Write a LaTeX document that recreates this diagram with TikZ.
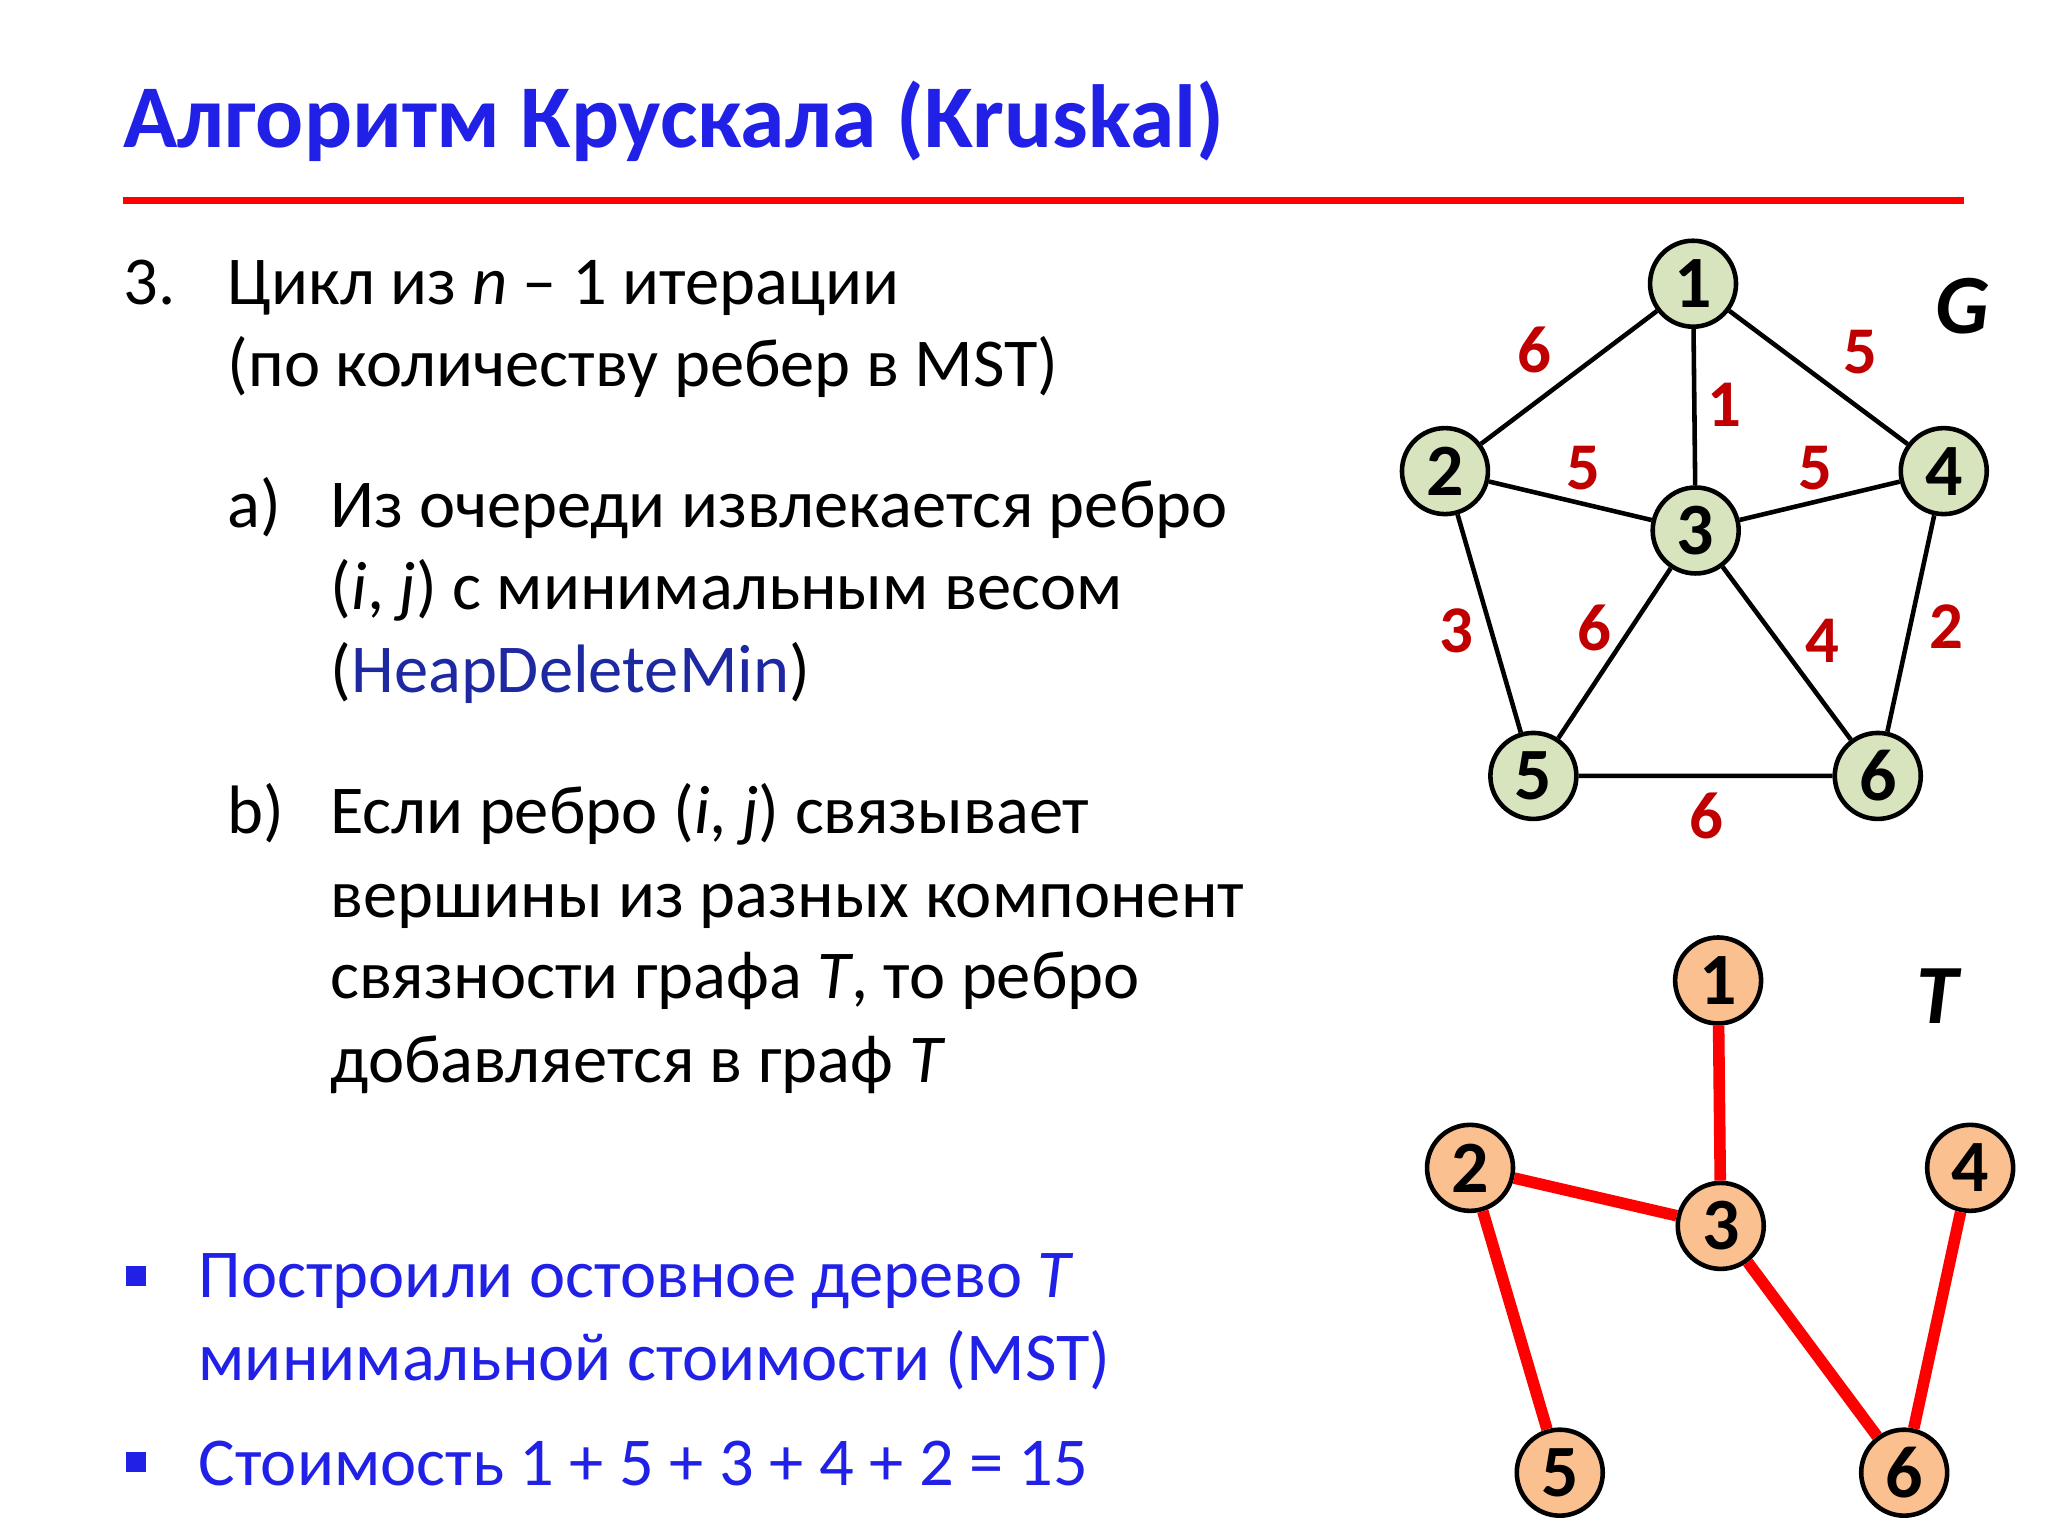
\documentclass[tikz,border=0pt]{standalone}
\usepackage{fontspec}
\setmainfont{Carlito}
\definecolor{tblue}{RGB}{32,32,230}
\definecolor{hblue}{RGB}{30,40,160}
\definecolor{wred}{RGB}{192,0,0}
\definecolor{gfill}{RGB}{215,228,189}
\definecolor{ofill}{RGB}{250,192,144}
\begin{document}
\begin{tikzpicture}[x=0.0132cm,y=-0.0132cm,
  txt/.style={anchor=base west,inner sep=0,font=\fontsize{19.5}{23}\selectfont},
  gv/.style={circle,draw,line width=1.3pt,fill=gfill,minimum size=0.86cm,inner sep=0,font=\fontsize{21}{24}\selectfont\bfseries},
  tv/.style={gv,fill=ofill},
  ge/.style={line width=1.3pt},
  te/.style={line width=3.3pt,red},
  wl/.style={text=wred,font=\fontsize{19}{22}\selectfont\bfseries,inner sep=0},
  bul/.style={fill=tblue,minimum size=0.2cm,inner sep=0}]
\useasboundingbox (0,0) rectangle (1552,1164);
\node[anchor=base west,inner sep=0,text=tblue,font=\fontsize{25.5}{30}\selectfont\bfseries] (title) at (93,112) {Алгоритм Крускала (Kruskal)};
\draw[red,line width=2.2pt] (93,152) -- (1488,152);
\node[txt] (n3) at (93,231) {3.};
\node[txt] (l1) at (172,231) {Цикл из \textit{n} – 1 итерации};
\node[txt] (l2) at (172,293) {(по количеству ребер в MST)};
\node[txt] (la) at (172,400) {a)};
\node[txt] (a1) at (250,400) {Из очереди извлекается ребро};
\node[txt] (a2) at (250,462) {(\textit{i}, \textit{j}) с минимальным весом};
\node[txt] (a3) at (250,525) {(\textcolor{hblue}{HeapDeleteMin})};
\node[txt] (lb) at (172,632) {b)};
\node[txt] (b1) at (250,632) {Если ребро (\textit{i}, \textit{j}) связывает};
\node[txt] (b2) at (250,695) {вершины из разных компонент};
\node[txt] (b3) at (250,757) {связности графа \textit{T}, то ребро};
\node[txt] (b4) at (250,820) {добавляется в граф \textit{T}};
\node[bul] (s1) at (103,967) {};
\node[txt,text=tblue] (c1) at (150,983) {Построили остовное дерево \textit{T}};
\node[txt,text=tblue] (c2) at (150,1046) {минимальной стоимости (MST)};
\node[bul] (s2) at (103,1108) {};
\node[txt,text=tblue] (c3) at (150,1126) {Стоимость 1 + 5 + 3 + 4 + 2 = 15};
% graph G
\node[gv] (g1) at (1283,215) {1};
\node[gv] (g2) at (1095,357) {2};
\node[gv] (g3) at (1285,402) {3};
\node[gv] (g4) at (1473,357) {4};
\node[gv] (g5) at (1162,588) {5};
\node[gv] (g6) at (1423,588) {6};
\draw[ge] (g1)--(g2) (g1)--(g3) (g1)--(g4) (g2)--(g3) (g3)--(g4) (g2)--(g5) (g3)--(g5) (g3)--(g6) (g4)--(g6) (g5)--(g6);
\node[wl] (w12) at (1163,265) {6};
\node[wl] (w14) at (1410,267) {5};
\node[wl] (w13) at (1307,307) {1};
\node[wl] (w23) at (1200,355) {5};
\node[wl] (w34) at (1376,355) {5};
\node[wl] (w25) at (1104,478) {3};
\node[wl] (w35) at (1208,476) {6};
\node[wl] (w36) at (1381,486) {4};
\node[wl] (w46) at (1475,475) {2};
\node[wl] (w56) at (1293,618) {6};
\node[font=\fontsize{24}{28}\selectfont\bfseries\itshape,inner sep=0] (G) at (1487,232) {G};
% tree T
\node[tv] (t1) at (1302,743) {1};
\node[tv] (t2) at (1114,885) {2};
\node[tv] (t3) at (1304,929) {3};
\node[tv] (t4) at (1493,885) {4};
\node[tv] (t5) at (1182,1116) {5};
\node[tv] (t6) at (1443,1116) {6};
\draw[te] (t1)--(t3) (t2)--(t3) (t2)--(t5) (t3)--(t6) (t4)--(t6);
\node[font=\fontsize{24}{28}\selectfont\bfseries\itshape,inner sep=0] (T) at (1468,755) {T};
\end{tikzpicture}
\end{document}
